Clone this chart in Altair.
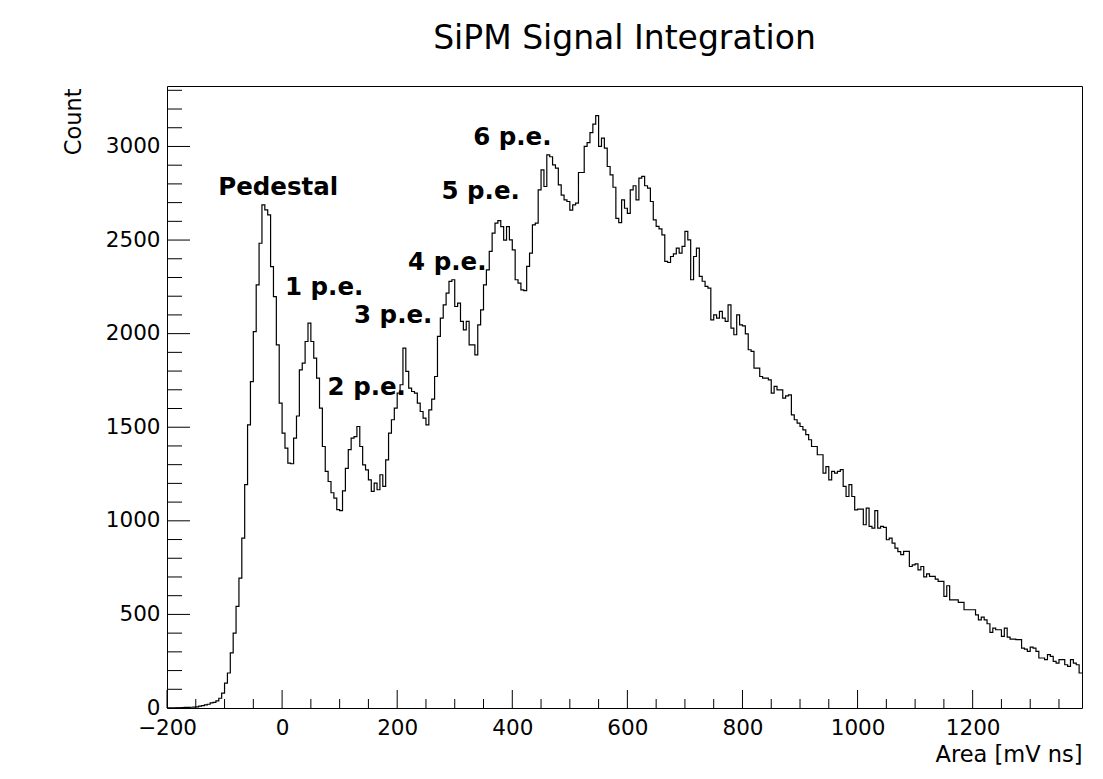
import altair as alt
import pandas as pd

# ---------------- data ----------------
BIN_START = -200
BIN_WIDTH = 5
counts = [
    0, 0, 0, 1, 1, 2, 3, 3, 4, 5,
    6, 10, 13, 17, 20, 27, 30, 38, 52, 80,
    133, 187, 294, 400, 543, 694, 908, 1193, 1513, 1744,
    2011, 2261, 2483, 2688, 2661, 2634, 2358, 2198, 1940, 1629,
    1469, 1388, 1308, 1305, 1442, 1560, 1806, 1842, 1958, 2056,
    1958, 1869, 1762, 1602, 1397, 1264, 1210, 1150, 1121, 1060,
    1055, 1160, 1280, 1380, 1442, 1450, 1504, 1397, 1299, 1272,
    1219, 1157, 1201, 1166, 1246, 1184, 1326, 1469, 1540, 1602,
    1682, 1727, 1923, 1798, 1709, 1691, 1682, 1629, 1584, 1549,
    1513, 1593, 1650, 1771, 1985, 2083, 2154, 2216, 2279, 2288,
    2145, 2163, 2065, 2020, 2065, 1940, 1940, 1887, 2047, 2127,
    2261, 2341, 2439, 2537, 2590, 2604, 2572, 2500, 2572, 2501,
    2448, 2288, 2270, 2234, 2230, 2359, 2430, 2581, 2590, 2768,
    2875, 2786, 2955, 2945, 2902, 2884, 2795, 2740, 2715, 2706,
    2660, 2688, 2697, 2861, 2861, 3000, 3021, 3074, 3119, 3165,
    3000, 3044, 2991, 2893, 2848, 2782, 2616, 2593, 2715, 2670,
    2643, 2768, 2790, 2715, 2831, 2840, 2790, 2777, 2706, 2608,
    2573, 2560, 2528, 2386, 2380, 2412, 2426, 2457, 2430, 2466,
    2546, 2501, 2288, 2412, 2457, 2306, 2280, 2252, 2243, 2074,
    2100, 2083, 2119, 2083, 2065, 2154, 2029, 1994, 2100, 2047,
    2042, 1999, 1914, 1905, 1816, 1816, 1771, 1762, 1762, 1753,
    1682, 1718, 1700, 1700, 1655, 1668, 1673, 1566, 1540, 1522,
    1504, 1486, 1460, 1433, 1397, 1397, 1353, 1353, 1255, 1290,
    1219, 1264, 1255, 1264, 1273, 1184, 1130, 1193, 1130, 1059,
    1063, 1063, 979, 1068, 970, 961, 1055, 961, 970, 965,
    899, 908, 881, 854, 835, 819, 837, 837, 756, 765,
    770, 738, 756, 700, 717, 703, 703, 689, 676, 676,
    596, 653, 578, 578, 578, 564, 564, 525, 525, 525,
    525, 498, 471, 486, 471, 450, 404, 427, 418, 418,
    383, 427, 379, 368, 368, 365, 365, 320, 315, 302,
    325, 320, 302, 267, 267, 258, 285, 276, 249, 240,
    258, 258, 231, 222, 258, 240, 231, 187,
]

ann_labels = ["Pedestal", "1 p.e.", "2 p.e.", "3 p.e.", "4 p.e.", "5 p.e.", "6 p.e."]
ann_x = [-111, 5, 79, 125, 219, 277, 332]
ann_y = [2742, 2208, 1674, 2058, 2338, 2719, 3009]

x_major = [-200, 0, 200, 400, 600, 800, 1000, 1200]
x_minor = [v for v in range(-150, 1390, 50) if v % 200 != 0]
y_major = [0, 500, 1000, 1500, 2000, 2500, 3000]
y_minor = [v for v in range(100, 3400, 100) if v % 500 != 0]

X_DOMAIN = [-200, 1390]
Y_DOMAIN = [0, 3323]
W, H = 915, 622
FONT = "DejaVu Sans"

# ---------------- frames ----------------
edges = [BIN_START + i * BIN_WIDTH for i in range(len(counts) + 1)]
hist = pd.DataFrame({"x": edges, "count": counts + [counts[-1]]})
ann = pd.DataFrame({"label": ann_labels, "x": ann_x, "y": ann_y})

xs = alt.Scale(domain=X_DOMAIN, nice=False, zero=False)
ys = alt.Scale(domain=Y_DOMAIN, nice=False, zero=False)

x_axis = alt.Axis(
    values=x_major, format="d", tickSize=0, domain=False, grid=False,
    labelFont=FONT, labelFontSize=21.5, labelColor="black", labelPadding=9,
    labelFlush=False, labelOverlap=False,
    title="Area [mV ns]", titleFont=FONT, titleFontSize=22.5,
    titleFontWeight="normal", titleColor="black",
    titleAnchor="end", titleAlign="right", titleX=W, titleY=53,
    titleBaseline="alphabetic")
y_axis = alt.Axis(
    values=y_major, format="d", tickSize=0, domain=False, grid=False,
    labelFont=FONT, labelFontSize=21.5, labelColor="black", labelPadding=7,
    labelFlush=False, labelOverlap=False,
    title="Count", titleFont=FONT, titleFontSize=22.5,
    titleFontWeight="normal", titleColor="black",
    titleAnchor="end", titleAlign="right", titleAngle=270,
    titleX=-94, titleY=2, titleBaseline="middle")

line = alt.Chart(hist).mark_line(
    interpolate="step-after", color="black", strokeWidth=1.2, clip=True
).encode(
    x=alt.X("x:Q", scale=xs, axis=x_axis),
    y=alt.Y("count:Q", scale=ys, axis=y_axis),
)

def xticks(vals, length):
    return alt.Chart(pd.DataFrame({"v": vals})).mark_rule(
        color="black", strokeWidth=1
    ).encode(
        x=alt.X("v:Q", scale=xs, axis=x_axis),
        y=alt.value(H), y2=alt.value(H - length),
    )

def yticks(vals, length):
    return alt.Chart(pd.DataFrame({"v": vals})).mark_rule(
        color="black", strokeWidth=1
    ).encode(
        y=alt.Y("v:Q", scale=ys, axis=y_axis),
        x=alt.value(0), x2=alt.value(length),
    )

labels = alt.Chart(ann).mark_text(
    align="left", baseline="alphabetic", font=FONT, fontWeight="bold",
    fontSize=24.5, color="black"
).encode(
    x=alt.X("x:Q", scale=xs, axis=x_axis),
    y=alt.Y("y:Q", scale=ys, axis=y_axis),
    text="label:N",
)

chart = alt.layer(
    line,
    xticks(x_major, 18), xticks(x_minor, 9),
    yticks(y_major, 23), yticks(y_minor, 15),
    labels,
).properties(
    width=W, height=H,
    background="white",
    title=alt.TitleParams(
        "SiPM Signal Integration", font=FONT, fontSize=33,
        fontWeight="normal", color="black", anchor="middle",
        offset=30),
    autosize=alt.AutoSizeParams(type="none"),
    padding={"left": 167, "top": 86, "right": 21, "bottom": 71},
).configure_view(
    stroke="black", strokeWidth=1
)

chart.save("out.html", embed_options={"renderer": "svg", "actions": False})
